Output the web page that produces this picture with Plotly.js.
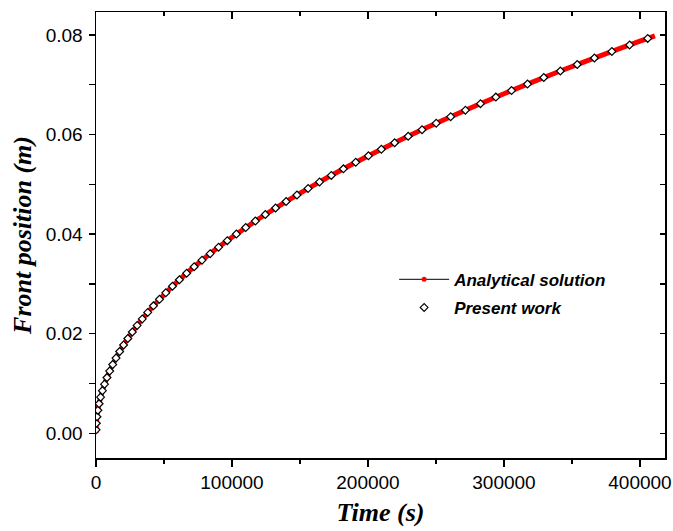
<!DOCTYPE html>
<html>
<head>
<meta charset="utf-8">
<script src="https://cdn.plot.ly/plotly-3.0.1.min.js"></script>
<style>html,body{margin:0;padding:0;background:#fff;}#chart{width:673px;height:531px;}</style>
</head>
<body>
<div id="chart"></div>
<script>
// Analytical solution (time in s, front position in m)
const analyticalTime = [0, 100, 400, 900, 1600, 2500, 3600, 4900, 6400, 8100, 10000, 12500, 15000, 20000, 25000, 30000, 40000, 50000, 60000, 70000, 80000, 90000, 100000, 120000, 140000, 160000, 180000, 200000, 220000, 240000, 260000, 280000, 300000, 320000, 340000, 360000, 380000, 400000, 411000];
const analyticalPos = [0, 0.001245, 0.00249, 0.003735, 0.00498, 0.006225, 0.00747, 0.008715, 0.00996, 0.011205, 0.01245, 0.013919, 0.015248, 0.017607, 0.019685, 0.021564, 0.0249, 0.027839, 0.030496, 0.03294, 0.035214, 0.03735, 0.03937, 0.043128, 0.046584, 0.0498, 0.052821, 0.055678, 0.058396, 0.060993, 0.063483, 0.065879, 0.068191, 0.070428, 0.072596, 0.0747, 0.076747, 0.078741, 0.079816];

// Present work (numerical)
const presentTime = [32, 261, 711, 1383, 2276, 3391, 4727, 6285, 8064, 10064, 12286, 14730, 17394, 20281, 23388, 26717, 30268, 34040, 38033, 42248, 46684, 51341, 56220, 61321, 66643, 72186, 77951, 83937, 90145, 96574, 103224, 110096, 117189, 124504, 132040, 139798, 147777, 155977, 164399, 173043, 181907, 190994, 200301, 209830, 219581, 229553, 239746, 250161, 260797, 271654, 282734, 294034, 305556, 317299, 329264, 341450, 353858, 366487, 379337, 392409, 405703];
const presentPos = [0.0007, 0.00201, 0.00332, 0.00463, 0.00594, 0.00725, 0.00856, 0.00987, 0.01118, 0.01249, 0.0138, 0.01511, 0.01642, 0.01773, 0.01904, 0.02035, 0.02166, 0.02297, 0.02428, 0.02559, 0.0269, 0.02821, 0.02952, 0.03083, 0.03214, 0.03345, 0.03476, 0.03607, 0.03738, 0.03869, 0.04, 0.04131, 0.04262, 0.04393, 0.04524, 0.04655, 0.04786, 0.04917, 0.05048, 0.05179, 0.0531, 0.05441, 0.05572, 0.05703, 0.05834, 0.05965, 0.06096, 0.06227, 0.06358, 0.06489, 0.0662, 0.06751, 0.06882, 0.07013, 0.07144, 0.07275, 0.07406, 0.07537, 0.07668, 0.07799, 0.0793];

const seriesNames = ["Analytical solution", "Present work"];
const xTitle = "Time (s)";
const yTitle = "Front position (m)";

const xRange = [0, 418400];
const yRange = [-0.00496, 0.0846];

const traces = [
  {
    x: analyticalTime, y: analyticalPos, type: "scatter", mode: "lines",
    line: {color: "#ff0000", width: 5, shape: "spline"},
    showlegend: false, hoverinfo: "skip"
  },
  {
    x: [null], y: [null], type: "scatter", mode: "lines+markers",
    name: seriesNames[0], legendgroup: "a",
    line: {color: "#000000", width: 1},
    marker: {color: "#ff0000", size: 5, symbol: "circle"}
  },
  {
    x: presentTime, y: presentPos, type: "scatter", mode: "markers",
    name: seriesNames[1], legendgroup: "b",
    marker: {symbol: "diamond", size: 6, color: "#ffffff", line: {color: "#000000", width: 1.2}}
  },
  {
    x: [null], y: [null], type: "scatter", mode: "markers",
    xaxis: "x2", yaxis: "y2", showlegend: false, hoverinfo: "skip"
  }
];

const tickFont = {family: "Liberation Sans, Arial, sans-serif", size: 19, color: "#000"};
const titleFont = {family: "Liberation Serif, Times New Roman, serif", size: 26, color: "#000", weight: "bold", style: "italic"};

const layout = {
  width: 673, height: 531,
  margin: {l: 96, r: 8, t: 12, b: 73},
  paper_bgcolor: "#ffffff", plot_bgcolor: "#ffffff",
  showlegend: true,
  legend: {
    x: 0.524, y: 0.44, xanchor: "left", yanchor: "top",
    bgcolor: "rgba(0,0,0,0)", borderwidth: 0,
    font: {family: "Liberation Sans, Arial, sans-serif", size: 17, color: "#000", weight: "bold", style: "italic"},
    itemwidth: 50, tracegroupgap: 3
  },
  xaxis: {
    range: xRange, showgrid: false, zeroline: false,
    showline: true, linecolor: "#000", linewidth: 1.5,
    ticks: "outside", ticklen: 7, tickwidth: 1.5, tickcolor: "#000",
    dtick: 100000, tick0: 0, tickformat: "d",
    tickfont: tickFont,
    minor: {dtick: 50000, tick0: 0, ticks: "outside", ticklen: 4, tickwidth: 1.5, tickcolor: "#000", showgrid: false},
    title: {text: xTitle, font: titleFont, standoff: 10}
  },
  xaxis2: {
    range: xRange, overlaying: "x", side: "top", anchor: "y",
    showgrid: false, zeroline: false, showline: true, linecolor: "#000", linewidth: 1.5,
    ticks: "inside", ticklen: 7, tickwidth: 1.5, tickcolor: "#000",
    dtick: 100000, tick0: 0, showticklabels: false,
    minor: {dtick: 50000, tick0: 0, ticks: "inside", ticklen: 4, tickwidth: 1.5, tickcolor: "#000", showgrid: false}
  },
  yaxis: {
    range: yRange, showgrid: false, zeroline: false,
    showline: true, linecolor: "#000", linewidth: 1.5,
    ticks: "outside", ticklen: 6, tickwidth: 1.5, tickcolor: "#000",
    dtick: 0.02, tick0: 0, tickformat: ".2f",
    tickfont: tickFont, ticklabelstandoff: 2,
    minor: {dtick: 0.01, tick0: 0, ticks: "outside", ticklen: 6, tickwidth: 1.5, tickcolor: "#000", showgrid: false},
    title: {text: yTitle, font: titleFont, standoff: 6}
  },
  yaxis2: {
    range: yRange, overlaying: "y", side: "right", anchor: "x",
    showgrid: false, zeroline: false, showline: true, linecolor: "#000", linewidth: 1.5,
    ticks: "inside", ticklen: 5, tickwidth: 1.5, tickcolor: "#000",
    dtick: 0.02, tick0: 0, showticklabels: false,
    minor: {dtick: 0.01, tick0: 0, ticks: "inside", ticklen: 5, tickwidth: 1.5, tickcolor: "#000", showgrid: false}
  }
};

Plotly.newPlot("chart", traces, layout, {displayModeBar: false, staticPlot: true});
</script>
</body>
</html>
